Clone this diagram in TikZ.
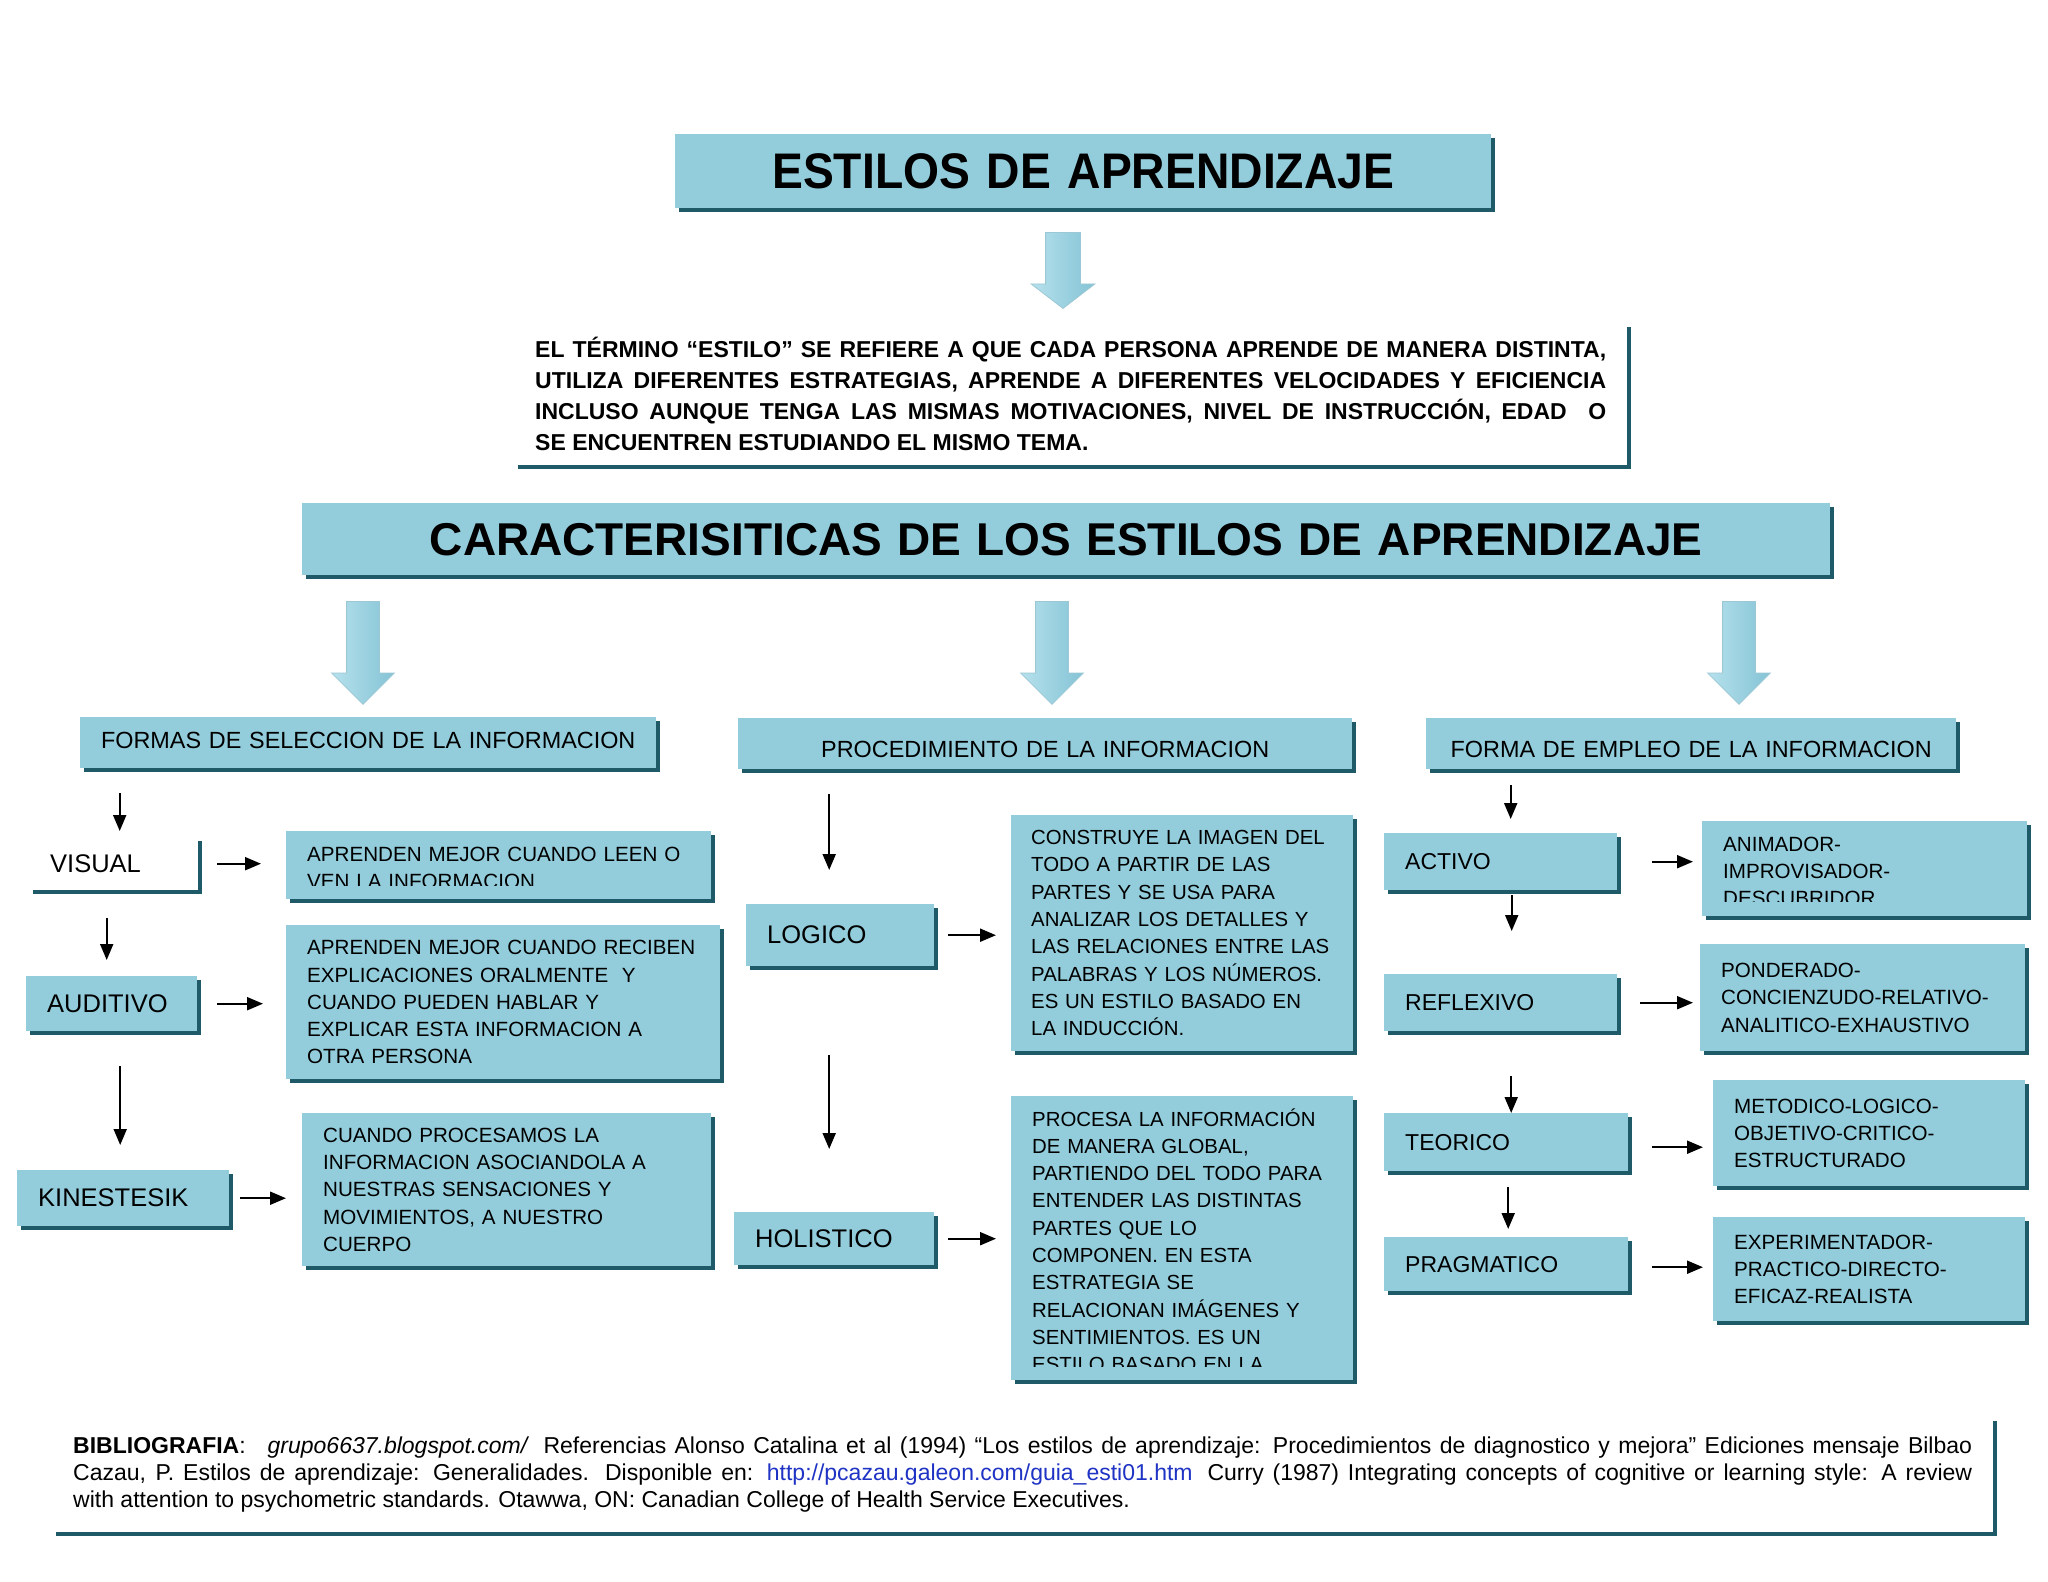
\documentclass[tikz,border=0pt]{standalone}
\usepackage{fontspec}
\setmainfont{Liberation Sans}
\newfontfamily\titulofuente{Liberation Sans}[FakeStretch=0.925]
\usepackage{tikz}
\usetikzlibrary{arrows.meta, shapes.arrows, shadows}
\usepackage{xcolor}
\definecolor{CajaAzul}{HTML}{93CDDC}
\definecolor{SombraTeal}{HTML}{1F5A68}
\definecolor{FlechaClara}{HTML}{B6E1EC}
\definecolor{FlechaOscura}{HTML}{84C3D5}
\definecolor{BordeFlecha}{HTML}{9CC8D5}
\definecolor{Enlace}{HTML}{1F33C4}

\tikzset{
  caja/.style={fill=CajaAzul, anchor=north west, inner xsep=21pt, inner ysep=0pt,
    general shadow={shadow xshift=4pt, shadow yshift=-4pt, fill=SombraTeal}},
  cajablanca/.style={caja, fill=white},
  etiqueta/.style={caja, align=left, font=\fontsize{25.5}{30}\selectfont},
  etiquetader/.style={caja, align=left, font=\fontsize{23}{28}\selectfont},
  categoria/.style={caja, inner xsep=4pt, align=center, minimum height=51pt, font=\fontsize{23.4}{28}\selectfont},
  detalle/.style={caja, align=left, font=\fontsize{20.6}{27.3}\selectfont},
  recorte/.style={anchor=base west, inner sep=0pt, align=left, font=\fontsize{20.6}{27.3}\selectfont},
  flechita/.style={-{Triangle[length=16pt, width=13pt]}, line width=2pt},
  flechagrande/.style={single arrow, shape border rotate=270, anchor=tail, inner sep=16pt,
    minimum width=0pt, left color=FlechaClara, right color=FlechaOscura, draw=BordeFlecha, line width=0.8pt}
}

\begin{document}
\begin{tikzpicture}[x=1pt, y=-1pt]
  \path[use as bounding box, fill=white] (0,0) rectangle (2048,1582);

  % encabezado
  \node[caja, minimum width=816pt, minimum height=74pt, text width=774pt, align=center,
        font=\titulofuente\fontsize{50}{56}\selectfont\bfseries] (titulo) at (675,134) {ESTILOS DE APRENDIZAJE};
  \node[flechagrande, inner sep=17pt, minimum height=76pt, single arrow head extend=14.5pt,
        single arrow tip angle=105] (bajada) at (1063,232) {};
  \node[cajablanca, minimum width=1113pt, minimum height=142pt, text width=1071pt, align=justify,
        font=\fontsize{23}{31}\selectfont\bfseries] (definicion) at (514,323)
    {EL TÉRMINO “ESTILO” SE REFIERE A QUE CADA PERSONA APRENDE DE MANERA DISTINTA,\linebreak
     UTILIZA DIFERENTES ESTRATEGIAS, APRENDE A DIFERENTES VELOCIDADES Y EFICIENCIA\linebreak
     INCLUSO AUNQUE TENGA LAS MISMAS MOTIVACIONES, NIVEL DE INSTRUCCIÓN, EDAD~~O\linebreak
     SE ENCUENTREN ESTUDIANDO EL MISMO TEMA.};
  \node[caja, minimum width=1528pt, minimum height=72pt, text width=1486pt, align=center,
        font=\fontsize{46}{54}\selectfont\bfseries] (caract) at (302,503)
    {CARACTERISITICAS DE LOS ESTILOS DE APRENDIZAJE};

  % tres flechas grandes
  \foreach \x/\n in {363/izq, 1052/centro, 1739/der}
    \node[flechagrande, minimum height=103pt, single arrow head extend=15pt]
      (baja-\n) at (\x,601) {};

  \node[categoria, minimum width=576pt, text width=568pt, text depth=5pt] (formas) at (80,717) {FORMAS DE SELECCION DE LA INFORMACION};
  \node[categoria, minimum width=614pt, text width=606pt, text height=27pt] (proced) at (738,718) {PROCEDIMIENTO DE LA INFORMACION};
  \node[categoria, minimum width=530pt, text width=522pt, text height=27pt] (empleo) at (1426,718) {FORMA DE EMPLEO DE LA INFORMACION};

  % seleccion
  \node[etiqueta, fill=white, minimum width=169pt, minimum height=53pt, text width=127pt] (visual) at (29,837) {VISUAL};
  \node[caja, minimum width=425pt, minimum height=68pt] (visualdesc) at (286,831) {};
  \begin{scope}
    \clip (visualdesc.north west) rectangle ([yshift=14pt]visualdesc.south east);
    \node[recorte, text width=383pt] (visualtxt) at ([xshift=21pt, yshift=-30pt]visualdesc.north west)
      {APRENDEN MEJOR CUANDO LEEN O\\VEN LA INFORMACION};
  \end{scope}
  \node[etiqueta, minimum width=171pt, minimum height=55pt, text width=129pt] (auditivo) at (26,976) {AUDITIVO};
  \node[detalle, minimum width=434pt, minimum height=154pt, text width=392pt] (auditivodesc) at (286,925)
    {APRENDEN MEJOR CUANDO RECIBEN\\EXPLICACIONES ORALMENTE~~Y\\CUANDO PUEDEN HABLAR Y\\EXPLICAR ESTA INFORMACION A\\OTRA PERSONA};
  \node[etiqueta, minimum width=212pt, minimum height=56pt, text width=170pt] (kines) at (17,1170) {KINESTESIK};
  \node[detalle, minimum width=409pt, minimum height=153pt, text width=367pt] (kinesdesc) at (302,1113)
    {CUANDO PROCESAMOS LA\\INFORMACION ASOCIANDOLA A\\NUESTRAS SENSACIONES Y\\MOVIMIENTOS, A NUESTRO\\CUERPO};

  % procedimiento
  \node[etiqueta, minimum width=188pt, minimum height=62pt, text width=146pt] (logico) at (746,904) {LOGICO};
  \node[detalle, inner xsep=20pt, minimum width=342pt, minimum height=236pt, text width=302pt,
        font=\fontsize{20.4}{27.3}\selectfont] (logicodesc) at (1011,815)
    {CONSTRUYE LA IMAGEN DEL\\TODO A PARTIR DE LAS\\PARTES Y SE USA PARA\\ANALIZAR LOS DETALLES Y\\\mbox{LAS RELACIONES ENTRE LAS}\\PALABRAS Y LOS NÚMEROS.\\ES UN ESTILO BASADO EN\\LA INDUCCIÓN.};
  \node[etiqueta, minimum width=200pt, minimum height=53pt, text width=158pt] (holistico) at (734,1212) {HOLISTICO};
  \node[caja, minimum width=342pt, minimum height=284pt] (holisticodesc) at (1011,1096) {};
  \begin{scope}
    \clip (holisticodesc.north west) rectangle ([yshift=14pt]holisticodesc.south east);
    \node[recorte, text width=302pt, font=\fontsize{20.4}{27.3}\selectfont] (holisticotxt)
      at ([xshift=21pt, yshift=-30pt]holisticodesc.north west)
      {PROCESA LA INFORMACIÓN\\DE MANERA GLOBAL,\\PARTIENDO DEL TODO PARA\\ENTENDER LAS DISTINTAS\\PARTES QUE LO\\COMPONEN. EN ESTA\\ESTRATEGIA SE\\RELACIONAN IMÁGENES Y\\SENTIMIENTOS. ES UN\\ESTILO BASADO EN LA};
  \end{scope}

  % empleo
  \node[etiquetader, minimum width=233pt, minimum height=57pt, text width=191pt] (activo) at (1384,833) {ACTIVO};
  \node[caja, minimum width=325pt, minimum height=95pt] (activodesc) at (1702,821) {};
  \begin{scope}
    \clip (activodesc.north west) rectangle ([yshift=15pt]activodesc.south east);
    \node[recorte, text width=283pt] (activotxt) at ([xshift=21pt, yshift=-30pt]activodesc.north west)
      {ANIMADOR-\\IMPROVISADOR-\\DESCUBRIDOR};
  \end{scope}
  \node[etiquetader, minimum width=233pt, minimum height=57pt, text width=191pt] (reflexivo) at (1384,974) {REFLEXIVO};
  \node[detalle, minimum width=325pt, minimum height=107pt, text width=283pt] (reflexivodesc) at (1700,944)
    {PONDERADO-\\CONCIENZUDO-RELATIVO-\\ANALITICO-EXHAUSTIVO};
  \node[etiquetader, minimum width=244pt, minimum height=58pt, text width=202pt] (teorico) at (1384,1113) {TEORICO};
  \node[detalle, minimum width=312pt, minimum height=106pt, text width=270pt] (teoricodesc) at (1713,1080)
    {METODICO-LOGICO-\\OBJETIVO-CRITICO-\\ESTRUCTURADO};
  \node[etiquetader, minimum width=244pt, minimum height=54pt, text width=202pt] (pragmatico) at (1384,1237) {PRAGMATICO};
  \node[detalle, minimum width=312pt, minimum height=104pt, text width=270pt] (pragmaticodesc) at (1713,1217)
    {EXPERIMENTADOR-\\PRACTICO-DIRECTO-\\EFICAZ-REALISTA};

  % bibliografia
  \node[cajablanca, minimum width=1941pt, minimum height=115pt, text width=1899pt, align=justify,
        font=\fontsize{23}{27}\selectfont] (biblio) at (52,1417)
    {\textbf{BIBLIOGRAFIA}:\hspace{22pt}\textit{grupo6637.blogspot.com/}\hspace{6pt} Referencias Alonso Catalina et al (1994) “Los estilos de aprendizaje: Procedimientos de diagnostico y mejora” Ediciones mensaje Bilbao\linebreak
     Cazau, P. Estilos de aprendizaje: Generalidades. Disponible en: {\color{Enlace}http://pcazau.galeon.com/guia\_esti01.htm}\hspace{6pt} Curry (1987) Integrating concepts of cognitive or learning style: A review\linebreak
     with attention to psychometric standards. Otawwa, ON: Canadian College of Health Service Executives.};

  % flechas pequenas
  \draw[flechita, shorten <=25pt, shorten >=6pt] ([xshift=6pt]visual.north |- formas.south) -- ([xshift=6pt]visual.north);
  \draw[flechita, shorten <=19pt, shorten >=25pt] (visual.east) -- (visual.east -| visualdesc.west);
  \draw[flechita, shorten <=28pt, shorten >=16pt] ([xshift=-5pt]auditivo.north |- visual.south) -- ([xshift=-5pt]auditivo.north);
  \draw[flechita, shorten <=20pt, shorten >=23pt] (auditivo.east) -- (auditivo.east -| auditivodesc.west);
  \draw[flechita, shorten <=35pt, shorten >=25pt] ([xshift=-3pt]kines.north |- auditivo.south) -- ([xshift=-3pt]kines.north);
  \draw[flechita, shorten <=11pt, shorten >=16pt] (kines.east) -- (kines.east -| kinesdesc.west);

  \draw[flechita, shorten <=25pt, shorten >=34pt] ([xshift=-11pt]logico.north |- proced.south) -- ([xshift=-11pt]logico.north);
  \draw[flechita, shorten <=14pt, shorten >=15pt] (logico.east) -- (logico.east -| logicodesc.west);
  \draw[flechita, shorten <=89pt, shorten >=63pt] ([xshift=-5pt]holistico.north |- logico.south) -- ([xshift=-5pt]holistico.north);
  \draw[flechita, shorten <=14pt, shorten >=15pt] (holistico.east) -- (holistico.east -| holisticodesc.west);

  \draw[flechita, shorten <=16pt, shorten >=14pt] ([xshift=10pt]activo.north |- empleo.south) -- ([xshift=10pt]activo.north);
  \draw[flechita, shorten <=35pt, shorten >=9pt] (activo.east) -- (activo.east -| activodesc.west);
  \draw[flechita, shorten <=5pt, shorten >=43pt] ([xshift=11pt]reflexivo.north |- activo.south) -- ([xshift=11pt]reflexivo.north);
  \draw[flechita, shorten <=23pt, shorten >=7pt] (reflexivo.east) -- (reflexivo.east -| reflexivodesc.west);
  \draw[flechita, shorten <=45pt] ([xshift=5pt]teorico.north |- reflexivo.south) -- ([xshift=5pt]teorico.north);
  \draw[flechita, shorten <=24pt, shorten >=10pt] ([yshift=-5pt]teorico.east) -- ([yshift=-5pt]teorico.east -| teoricodesc.west);
  \draw[flechita, shorten <=16pt, shorten >=8pt] ([xshift=2pt]pragmatico.north |- teorico.south) -- ([xshift=2pt]pragmatico.north);
  \draw[flechita, shorten <=24pt, shorten >=10pt] ([yshift=-3pt]pragmatico.east) -- ([yshift=-3pt]pragmatico.east -| pragmaticodesc.west);
\end{tikzpicture}
\end{document}
